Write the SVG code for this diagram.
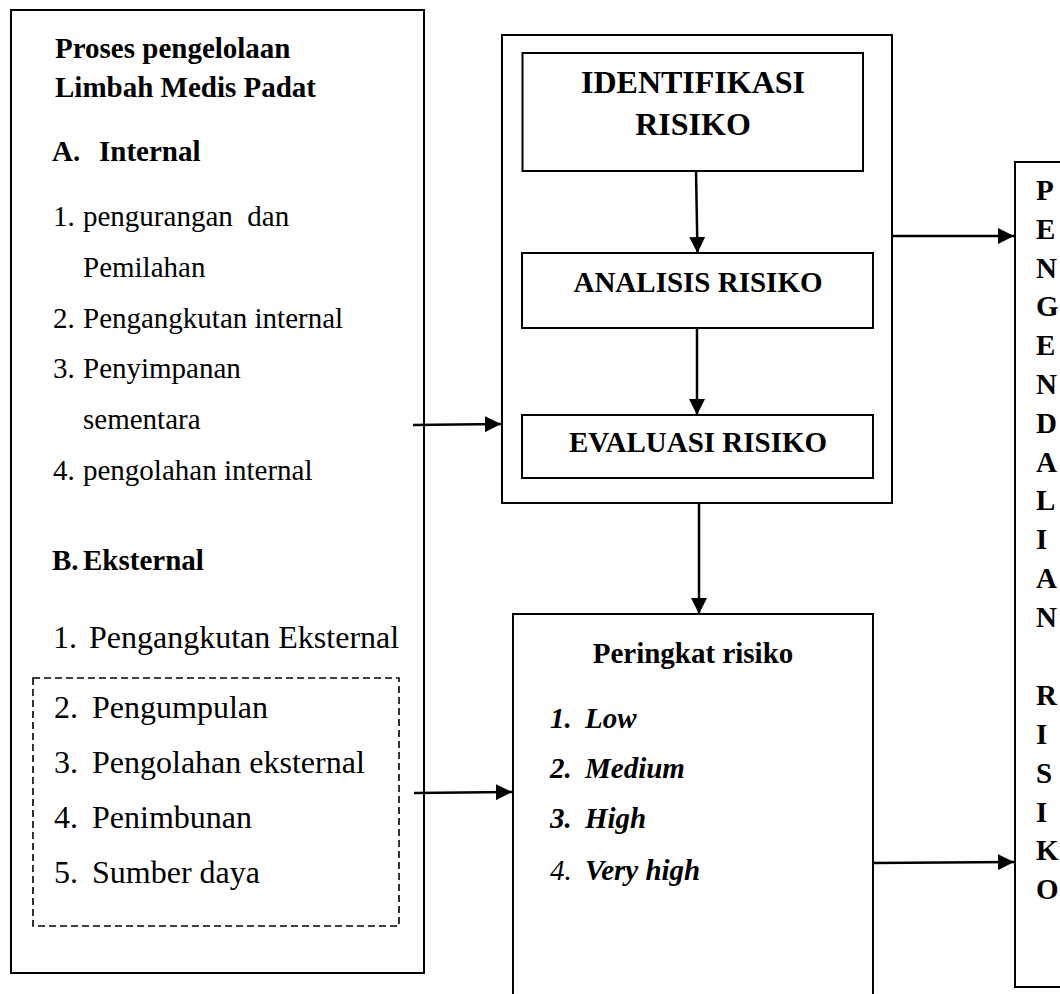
<svg xmlns="http://www.w3.org/2000/svg" width="1060" height="994" viewBox="0 0 1060 994">
<style>
  .box { fill: #ffffff; stroke: #000000; stroke-width: 2; }
  .dash { fill: none; stroke: #000000; stroke-width: 1.6; stroke-dasharray: 7 4; }
  .conn { fill: none; stroke: #000000; stroke-width: 2.5; }
  text { font-family: "Liberation Serif", "Times New Roman", serif; fill: #000000; }
  .b29 { font-size: 29px; font-weight: bold; }
  .r29 { font-size: 29px; }
  .r32 { font-size: 32px; }
  .b32 { font-size: 32px; font-weight: bold; }
  .bi29 { font-size: 29px; font-weight: bold; font-style: italic; }
  .i29 { font-size: 29px; font-style: italic; }
  .mid { text-anchor: middle; }
</style>
<defs>
  <marker id="arrow" markerUnits="userSpaceOnUse" markerWidth="16" markerHeight="16" refX="16" refY="8" orient="auto">
    <path d="M0,0 L16,8 L0,16 Z" fill="#000000"/>
  </marker>
</defs>
<rect width="1060" height="994" fill="#ffffff"/>

<g id="proses">
  <rect class="box" x="11" y="10" width="413" height="963"/>
  <text class="b29" x="55" y="58">Proses pengelolaan</text>
  <text class="b29" x="55" y="97">Limbah Medis Padat</text>
  <text class="b29" x="52" y="161">A.</text>
  <text class="b29" x="99" y="161">Internal</text>
  <text class="r29" x="53" y="226">1.</text>
  <text class="r29" x="83" y="226" xml:space="preserve">pengurangan  dan</text>
  <text class="r29" x="83" y="277">Pemilahan</text>
  <text class="r29" x="53" y="328">2.</text>
  <text class="r29" x="83" y="328">Pengangkutan internal</text>
  <text class="r29" x="53" y="378">3.</text>
  <text class="r29" x="83" y="378">Penyimpanan</text>
  <text class="r29" x="83" y="429">sementara</text>
  <text class="r29" x="53" y="480">4.</text>
  <text class="r29" x="83" y="480">pengolahan internal</text>
  <text class="b29" x="52" y="570">B.</text>
  <text class="b29" x="83" y="570">Eksternal</text>
  <text class="r32" x="53" y="648">1.</text>
  <text class="r32" x="89" y="648">Pengangkutan Eksternal</text>
</g>

<g id="eksternal-group">
  <rect class="dash" x="33" y="678" width="366" height="248"/>
  <text class="r32" x="54" y="718">2.</text>
  <text class="r32" x="92" y="718">Pengumpulan</text>
  <text class="r32" x="54" y="773">3.</text>
  <text class="r32" x="92" y="773">Pengolahan eksternal</text>
  <text class="r32" x="54" y="828">4.</text>
  <text class="r32" x="92" y="828">Penimbunan</text>
  <text class="r32" x="54" y="883">5.</text>
  <text class="r32" x="92" y="883">Sumber daya</text>
</g>

<g id="penilaian">
  <rect class="box" x="502" y="35" width="390" height="468"/>
</g>

<g id="identifikasi">
  <rect class="box" x="522.5" y="53" width="340.5" height="118"/>
  <text class="b32 mid" x="693" y="93">IDENTIFIKASI</text>
  <text class="b32 mid" x="693" y="135">RISIKO</text>
</g>

<g id="analisis">
  <rect class="box" x="522" y="253" width="351" height="75"/>
  <text class="b29 mid" x="698" y="292">ANALISIS RISIKO</text>
</g>

<g id="evaluasi">
  <rect class="box" x="522" y="415" width="351" height="63"/>
  <text class="b29 mid" x="698" y="452">EVALUASI RISIKO</text>
</g>

<g id="peringkat">
  <rect class="box" x="513" y="614" width="360" height="400"/>
  <text class="b29 mid" x="693" y="663">Peringkat risiko</text>
  <text class="bi29" x="550" y="728">1.</text>
  <text class="bi29" x="585" y="728">Low</text>
  <text class="bi29" x="550" y="778">2.</text>
  <text class="bi29" x="585" y="778">Medium</text>
  <text class="bi29" x="550" y="828">3.</text>
  <text class="bi29" x="585" y="828">High</text>
  <text class="i29" x="550" y="880">4.</text>
  <text class="bi29" x="585" y="880">Very high</text>
</g>

<g id="pengendalian">
  <rect class="box" x="1015" y="162" width="60" height="825"/>
  <text class="b29" x="1036" y="200">P</text>
  <text class="b29" x="1036" y="239">E</text>
  <text class="b29" x="1036" y="278">N</text>
  <text class="b29" x="1036" y="316">G</text>
  <text class="b29" x="1036" y="355">E</text>
  <text class="b29" x="1036" y="394">N</text>
  <text class="b29" x="1036" y="433">D</text>
  <text class="b29" x="1036" y="472">A</text>
  <text class="b29" x="1036" y="510">L</text>
  <text class="b29" x="1036" y="549">I</text>
  <text class="b29" x="1036" y="588">A</text>
  <text class="b29" x="1036" y="627">N</text>
  <text class="b29" x="1036" y="705">R</text>
  <text class="b29" x="1036" y="744">I</text>
  <text class="b29" x="1036" y="783">S</text>
  <text class="b29" x="1036" y="822">I</text>
  <text class="b29" x="1036" y="860">K</text>
  <text class="b29" x="1036" y="899">O</text>
</g>

<g id="connectors">
  <line class="conn" x1="413" y1="425" x2="501" y2="424" marker-end="url(#arrow)"/>
  <line class="conn" x1="414" y1="793" x2="512" y2="792" marker-end="url(#arrow)"/>
  <line class="conn" x1="696" y1="171" x2="697.5" y2="253" marker-end="url(#arrow)"/>
  <line class="conn" x1="697" y1="328" x2="697" y2="415" marker-end="url(#arrow)"/>
  <line class="conn" x1="699" y1="503" x2="699" y2="614" marker-end="url(#arrow)"/>
  <line class="conn" x1="892" y1="236" x2="1014" y2="236" marker-end="url(#arrow)"/>
  <line class="conn" x1="873" y1="863" x2="1014" y2="862" marker-end="url(#arrow)"/>
</g>
</svg>
